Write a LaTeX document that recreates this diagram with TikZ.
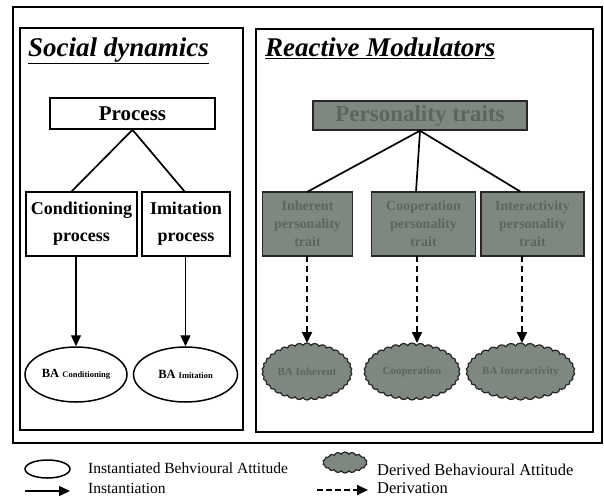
\documentclass[tikz,border=0pt]{standalone}
\usepackage{fontspec}
\setmainfont{Liberation Serif}
\usetikzlibrary{shapes.geometric,shapes.symbols,arrows.meta}
\definecolor{gfill}{HTML}{7E8880}
\definecolor{gtext}{HTML}{5C665E}
\tikzset{
  panel/.style={draw=black, line width=1.1pt},
  wbox/.style={draw=black, line width=1.6pt, fill=white, align=center, font=\bfseries, inner sep=0pt},
  gbox/.style={draw=black!85, line width=1.4pt, fill=gfill, align=center, font=\bfseries, text=gtext, inner sep=0pt},
  inst/.style={draw=black, line width=1.5pt, ellipse, inner sep=0pt},
  deriv/.style={draw=black!85, line width=1.2pt, fill=gfill, cloud, cloud puffs=34, cloud puff arc=120, cloud ignores aspect, inner sep=0pt, text=gtext, font=\bfseries},
  link/.style={line width=1.7pt},
  instarrow/.style={line width=1.4pt, -{Triangle[length=11pt,width=10pt]}},
  derivarrow/.style={line width=1.8pt, dash pattern=on 6pt off 4pt, -{Triangle[length=11pt,width=10pt]}},
  ttl/.style={font=\fontsize{27}{29}\selectfont\bfseries\itshape, anchor=base west, inner sep=0pt},
  lgd/.style={font=\fontsize{15.5}{17}\selectfont, anchor=base west, inner sep=0pt}
}
\begin{document}
\begin{tikzpicture}[x=1pt,y=-1pt]
\useasboundingbox (0,0) rectangle (604,499);
\fill[white] (0,0) rectangle (604,499);
% frames
\draw[panel, line width=1.4pt] (13,7) rectangle (602,443);
\draw[panel] (20,28) rectangle (243,430);
\draw[panel] (256,29) rectangle (593,432);
% titles
\node[ttl] (t1) at (28,56) {\underline{Social dynamics}};
\node[ttl] (t2) at (265,56) {\underline{Reactive Modulators}};
% left side
\node[wbox, minimum width=165pt, minimum height=31pt, font=\fontsize{21}{22}\selectfont\bfseries] (proc) at (132.5,113.5) {Process};
\node[wbox, minimum width=111pt, minimum height=64pt, font=\fontsize{18}{27}\selectfont\bfseries] (cond) at (81.5,224) {Conditioning\\process};
\node[wbox, minimum width=88pt, minimum height=64pt, font=\fontsize{18}{27}\selectfont\bfseries] (imit) at (186,224) {Imitation\\process};
\draw[link] (proc.south) -- (71,192);
\draw[link] (proc.south) -- (185,192);
\node[inst, minimum width=102pt, minimum height=55pt] (ba1) at (76,374.5) {\bfseries\fontsize{12.5}{13}\selectfont BA \fontsize{8.5}{9}\selectfont Conditioning};
\node[inst, minimum width=104pt, minimum height=55pt] (ba2) at (185.5,374.5) {\bfseries\fontsize{12.5}{13}\selectfont BA \fontsize{8.5}{9}\selectfont Imitation};
\draw[instarrow] (cond.south -| ba1) -- (ba1.north);
\draw[instarrow] (imit.south -| ba2) -- (ba2.north);
% right side
\node[gbox, minimum width=214pt, minimum height=29pt, font=\fontsize{23}{24}\selectfont\bfseries] (pt) at (420,115.5) {Personality traits};
\node[gbox, minimum width=90pt, minimum height=64pt, font=\fontsize{14}{18}\selectfont\bfseries] (g1) at (307.5,224) {Inherent\\personality\\trait};
\node[gbox, minimum width=104pt, minimum height=64pt, font=\fontsize{14}{18}\selectfont\bfseries] (g2) at (423.5,224) {Cooperation\\personality\\trait};
\node[gbox, minimum width=103pt, minimum height=64pt, font=\fontsize{14}{18}\selectfont\bfseries] (g3) at (532.5,224) {Interactivity\\personality\\trait};
\draw[link] (pt.south) -- (307,192);
\draw[link] (pt.south) -- (416,192);
\draw[link] (pt.south) -- (521,192);
\node[deriv, minimum width=90pt, minimum height=57pt, font=\fontsize{11}{12}\selectfont\bfseries] (d1) at (307,371.5) {BA Inherent};
\node[deriv, minimum width=96pt, minimum height=57pt, font=\fontsize{11}{12}\selectfont\bfseries] (d2) at (412,371.5) {Cooperation};
\node[deriv, minimum width=95pt, minimum height=57pt, font=\fontsize{11}{12}\selectfont\bfseries] (d3) at (520.5,371.5) {BA Interactivity};
\draw[derivarrow] (307,256) -- (307,343);
\draw[derivarrow] (417,256) -- (417,343);
\draw[derivarrow] (522,256) -- (522,343);
% legend
\node[inst, minimum width=45pt, minimum height=18pt] (le1) at (47.5,469) {};
\node[lgd] (lt1) at (88,473) {Instantiated Behvioural Attitude};
\coordinate (la1) at (25,491);
\coordinate (la2) at (70,491);
\draw[instarrow] (la1) -- (la2);
\node[lgd] (lt2) at (88,493) {Instantiation};
\node[deriv, minimum width=44pt, minimum height=21pt, cloud puffs=18] (le2) at (345,462.5) {};
\node[lgd, font=\fontsize{16.5}{17}\selectfont] (lt3) at (377,475) {Derived Behavioural Attitude};
\coordinate (lb1) at (317,490);
\coordinate (lb2) at (368,490);
\draw[derivarrow, dash pattern=on 6pt off 3pt] (lb1) -- (lb2);
\node[lgd, font=\fontsize{16.5}{17}\selectfont] (lt4) at (377,493) {Derivation};
\end{tikzpicture}
\end{document}
